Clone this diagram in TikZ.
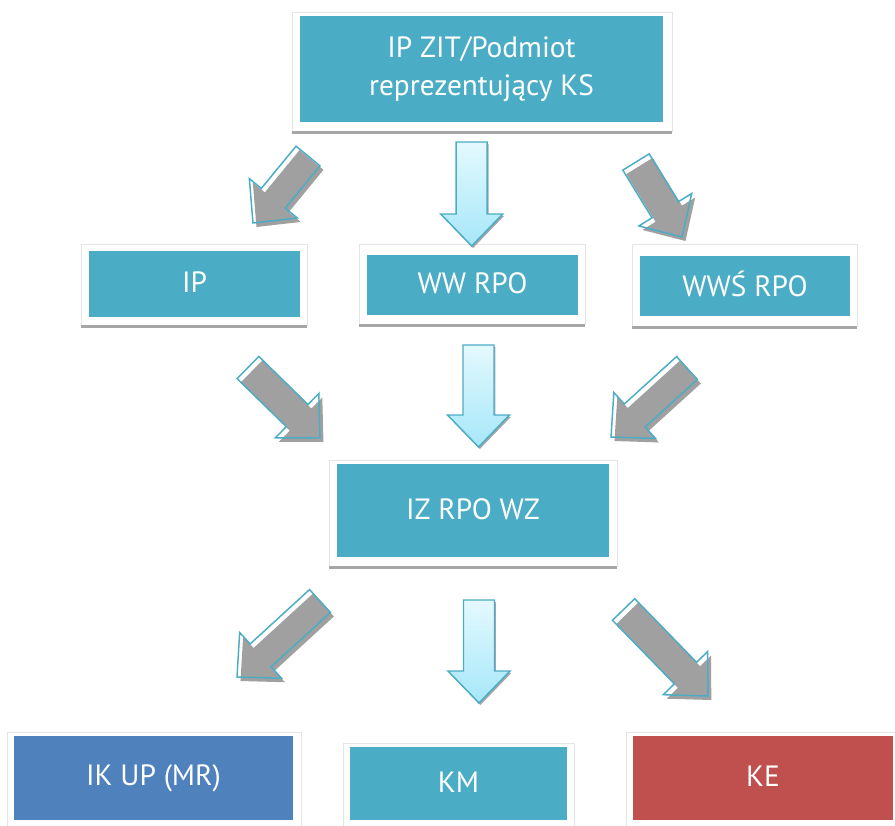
\documentclass[tikz,border=0pt]{standalone}
\usepackage{fontspec}
\setmainfont{PT Sans}
\usetikzlibrary{calc}
\definecolor{tealbox}{HTML}{4BACC6}
\definecolor{bluebox}{HTML}{4F81BD}
\definecolor{redbox}{HTML}{C0504D}
\definecolor{arrgray}{HTML}{A0A0A0}
\definecolor{shadowgray}{HTML}{A6A6A6}
\definecolor{lightcyanA}{HTML}{E4F9FE}
\definecolor{lightcyanB}{HTML}{A6E7F9}
\tikzset{
  frame/.style={draw=black!10, line width=0.4pt, fill=white},
  boxnode/.style={fill=tealbox, text=white, inner sep=0pt, align=center,
    font=\fontsize{22}{28}\selectfont},
  grayshadow/.style={fill=arrgray},
  grayoutline/.style={draw=tealbox, line width=1.1pt, line join=miter},
  bluearrow/.style={top color=lightcyanA, bottom color=lightcyanB, draw=tealbox, line width=1.1pt, line join=miter},
  blueshadow/.style={fill=black!35},
}
\newcommand\blockarrow[3]{%
  \coordinate (ba-h) at ($(#2)!24pt!(#1)$);
  \path[#3] ($(#1)!11.625pt!90:(#2)$) -- ($(ba-h)!11.625pt!90:(#2)$) -- ($(ba-h)!23.25pt!90:(#2)$) -- (#2) -- ($(ba-h)!23.25pt!-90:(#2)$) -- ($(ba-h)!11.625pt!-90:(#2)$) -- ($(#1)!11.625pt!-90:(#2)$) -- cycle;}
\newcommand\grayarrow[2]{%
  \begin{scope}[transform canvas={shift={(2.6pt,-3pt)}}]\blockarrow{#1}{#2}{grayshadow}\end{scope}
  \blockarrow{#1}{#2}{grayoutline}}
\newcommand\cyanarrow[2]{%
  \begin{scope}[transform canvas={shift={(1pt,-1.5pt)}}]\blockarrow{#1}{#2}{blueshadow}\end{scope}
  \blockarrow{#1}{#2}{bluearrow}}
\begin{document}
\begin{tikzpicture}[x=0.75pt,y=-0.75pt]
\useasboundingbox (0,0) rectangle (895,825);
% frames
\draw[frame] (292,12) rectangle (672,131);
\fill[shadowgray] (292,131) rectangle (672,134);
\draw[frame] (81,244) rectangle (307,325);
\fill[shadowgray] (81,325) rectangle (307,328);
\draw[frame] (359,244) rectangle (585,324);
\fill[shadowgray] (359,324) rectangle (585,327);
\draw[frame] (632,244) rectangle (857,326);
\fill[shadowgray] (632,326) rectangle (857,329);
\draw[frame] (329,460) rectangle (617,566);
\fill[shadowgray] (329,566) rectangle (617,569);
\draw[frame] (7,732) rectangle (301,830);
\draw[frame] (343,743) rectangle (574,830);
\draw[frame] (626,732) rectangle (900,830);
% boxes
\node[boxnode, minimum width={363*0.75pt}, minimum height={106*0.75pt}] (top) at (481.5,69) {IP ZIT/Podmiot\\reprezentujący KS};
\node[boxnode, minimum width={211*0.75pt}, minimum height={66*0.75pt}] (ip) at (194.5,284) {\raisebox{3pt}{IP}};
\node[boxnode, minimum width={211*0.75pt}, minimum height={60*0.75pt}] (ww) at (472.5,285) {\raisebox{3.5pt}{WW RPO}};
\node[boxnode, minimum width={210*0.75pt}, minimum height={60*0.75pt}] (wws) at (745,286) {\raisebox{3.5pt}{WWŚ RPO}};
\node[boxnode, minimum width={272*0.75pt}, minimum height={93*0.75pt}] (iz) at (473,510.5) {\raisebox{2pt}{IZ RPO WZ}};
\node[boxnode, fill=bluebox, minimum width={279*0.75pt}, minimum height={84*0.75pt}] (ik) at (153.5,778) {\raisebox{2.5pt}{IK UP (MR)}};
\node[boxnode, fill=redbox, minimum width={260*0.75pt}, minimum height={84*0.75pt}] (ke) at (763,778) {\raisebox{2.5pt}{KE}};
\node[boxnode, minimum width={217*0.75pt}, minimum height={73*0.75pt}] (km) at (458.5,783.5) {\raisebox{1.2pt}{KM}};
% arrow ends
\coordinate (a1t) at (308,156); \coordinate (a1h) at (253,223);
\coordinate (a2t) at (471.7,142); \coordinate (a2h) at (471.7,246);
\coordinate (a3t) at (636,162); \coordinate (a3h) at (682,237);
\coordinate (b1t) at (248,367.5); \coordinate (b1h) at (320,438);
\coordinate (b2t) at (478.5,345); \coordinate (b2h) at (478.5,447);
\coordinate (b3t) at (687,368); \coordinate (b3h) at (611,437);
\coordinate (c1t) at (320,601); \coordinate (c1h) at (237,677);
\coordinate (c2t) at (479,600); \coordinate (c2h) at (479,703);
\coordinate (c3t) at (623.6,609.5); \coordinate (c3h) at (707.8,696);
\grayarrow{a1t}{a1h}
\cyanarrow{a2t}{a2h}
\grayarrow{a3t}{a3h}
\grayarrow{b1t}{b1h}
\cyanarrow{b2t}{b2h}
\grayarrow{b3t}{b3h}
\grayarrow{c1t}{c1h}
\cyanarrow{c2t}{c2h}
\grayarrow{c3t}{c3h}
\end{tikzpicture}
\end{document}
